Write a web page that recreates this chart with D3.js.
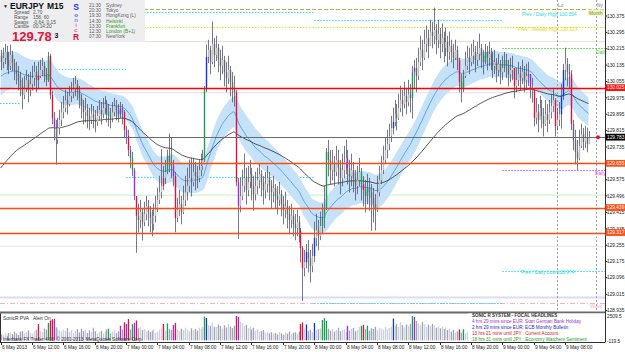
<!DOCTYPE html>
<html>
<head>
<meta charset="utf-8">
<script src="https://cdn.jsdelivr.net/npm/d3@7"></script>
<style>
  body { margin: 0; background: #fff; }
  svg { display: block; font-family: "Liberation Sans", Arial, sans-serif; }
</style>
</head>
<body>
<svg id="chart" width="625" height="352"></svg>
<script>
// EURJPY M15, 6 May 08:00 .. 9 May 11:00 (one close per bar)
const firstOpen = 130.180
const closes = [
  130.150,130.170,130.199,130.160,130.131,130.185,130.145,130.111,130.091,130.062,
  130.033,129.989,130.023,130.062,130.013,130.042,130.072,130.101,130.062,130.082,
  130.111,130.131,130.091,130.062,130.180,129.989,129.876,129.827,129.769,129.827,
  129.867,129.905,129.925,129.964,129.944,129.984,130.003,130.023,130.042,130.013,
  129.974,129.935,129.905,129.915,129.886,129.867,129.895,129.876,129.857,129.886,
  129.915,129.895,129.925,129.944,129.905,129.886,129.876,129.905,129.935,129.915,
  129.895,129.925,129.905,129.818,129.789,129.720,129.681,129.622,129.495,129.398,
  129.378,129.417,129.368,129.407,129.446,129.417,129.388,129.358,129.398,129.437,
  129.476,129.514,129.544,129.583,129.612,129.691,129.661,129.642,129.593,129.388,
  129.427,129.456,129.417,129.476,129.514,129.544,129.583,129.563,129.612,129.593,
  129.583,129.622,129.642,129.671,130.023,130.175,130.209,130.150,130.238,130.185,
  130.219,130.170,130.131,130.160,130.101,130.072,130.111,130.052,130.023,130.003,
  129.563,129.446,129.495,129.544,129.583,129.524,129.563,129.602,129.544,129.504,
  129.544,129.573,129.602,129.563,129.524,129.553,129.583,129.544,129.514,129.534,
  129.495,129.476,129.504,129.456,129.427,129.446,129.407,129.378,129.398,129.358,
  129.339,129.368,129.329,129.241,129.143,129.172,129.221,129.192,129.153,129.202,
  129.290,129.329,129.300,129.349,129.388,129.437,129.710,129.671,129.622,129.651,
  129.612,129.671,129.632,129.583,129.622,129.661,129.681,129.632,129.593,129.622,
  129.583,129.544,129.573,129.612,129.553,129.524,129.495,129.534,129.514,129.485,
  129.456,129.427,129.514,129.573,129.622,129.671,129.720,129.749,129.789,129.827,
  129.857,129.895,129.876,129.925,129.964,129.944,129.984,129.954,129.993,129.974,
  130.101,130.121,130.082,130.150,130.209,130.170,130.238,130.268,130.229,130.297,
  130.277,130.306,130.258,130.287,130.238,130.268,130.219,130.248,130.199,130.229,
  130.199,130.170,130.209,130.160,130.052,130.023,130.082,130.131,130.170,130.150,
  130.180,130.199,130.160,130.189,130.219,130.180,130.150,130.199,130.170,130.189,
  130.160,130.131,130.150,130.111,130.140,130.101,130.121,130.160,130.131,130.091,
  130.111,130.121,130.033,130.062,130.091,130.072,130.101,130.062,130.082,130.091,
  130.023,130.013,129.876,129.905,129.867,129.925,129.886,129.847,129.895,129.867,
  129.905,129.935,129.964,129.837,129.867,129.895,129.984,130.111,130.140,130.101,
  130.091,129.847,129.769,129.710,129.681,129.740,129.798,129.759,129.779,129.749,129.783
]
// wick beyond the body, in pips
const wickUp = [
  3,5,4,3,4,5,2,2,4,4, 4,4,6,5,3,6,6,5,3,7, 5,4,2,3,2,1,2,3,4,5, 5,5,6,5,4,5,5,5,4,2,
  2,2,3,6,3,4,5,4,4,5, 5,4,5,4,2,4,4,5,4,3, 3,3,2,1,2,3,2,3,1,0, 6,6,2,6,5,3,3,4,6,6,
  6,8,18,6,6,3,11,12,3,2, 6,7,4,7,8,9,9,10,7,5, 5,5,6,5,1,6,5,2,11,3, 6,2,4,7,2,5,7,2,5,6,
  1,2,9,8,12,5,8,7,3,5, 7,6,5,2,3,6,6,3,3,6, 2,5,6,2,4,7,3,4,6,3, 5,6,3,1,1,6,4,6,4,6,
  8,8,5,7,7,11,2,6,5,7, 4,7,5,4,8,8,9,4,4,8, 4,4,7,7,2,4,5,7,5,4, 5,5,8,7,7,7,6,7,6,6,
  7,7,5,7,7,5,7,4,7,5, 3,4,5,7,7,5,7,6,4,6, 5,11,3,7,3,7,3,7,3,7, 3,4,5,2,1,4,3,7,6,5,
  6,6,3,6,7,2,3,4,3,6, 3,4,6,2,5,2,6,4,3,3, 6,6,0,6,6,4,6,3,6,6, 0,5,1,7,4,6,4,4,7,5,
  6,6,6,1,6,6,6,3,8,3, 4,2,2,5,6,8,5,3,6,5,3
]
const wickDown = [
  4,3,3,5,4,2,4,5,5,5, 5,7,2,2,6,3,3,4,6,4, 1,3,4,3,1,2,3,6,12,2, 3,3,3,2,5,1,3,3,4,5,
  5,6,6,5,6,5,2,5,5,2, 2,5,2,3,5,5,5,2,2,5, 4,2,6,4,4,3,5,3,2,18, 6,4,9,2,3,7,7,6,3,3,
  2,2,3,2,3,1,5,6,5,7, 2,3,6,1,3,4,3,7,2,7, 5,2,3,2,1,2,3,6,1,6, 3,7,7,4,7,7,3,7,7,7,
  2,16,3,2,3,7,3,3,7,8, 3,4,4,7,7,4,4,7,8,5, 6,7,3,6,7,4,7,7,4,6, 6,4,6,7,16,4,3,7,8,3,
  3,4,7,2,4,5,1,8,7,5, 7,2,8,8,4,4,6,8,8,5, 7,7,4,3,8,8,8,4,9,16, 9,10,1,2,2,2,2,4,3,3,
  3,2,6,1,2,6,2,6,2,7, 10,8,8,2,2,6,1,4,6,0, 6,4,7,4,7,4,7,4,7,4, 5,5,1,5,5,7,2,1,2,6,
  2,4,6,3,3,6,6,1,6,4, 5,6,4,6,3,6,4,2,6,6, 4,5,6,3,3,6,3,6,4,5, 5,6,4,3,6,0,6,6,1,6,
  2,3,3,5,2,3,7,2,5,7, 7,3,5,6,6,1,1,4,3,4,0
]
const volumes = [
  620,540,700,480,760,820,640,900,700,560, 880,960,720,840,1040,780,660,920,1100,1680,
  980,860,1240,1120,1780,2040,2180,2220,1350,1180, 1020,900,1120,960,1260,880,1040,760,940,1160,
  820,1200,980,1100,760,1020,880,1300,940,700, 860,980,740,920,1120,1200,700,880,1040,760,
  940,1500,1100,1850,1700,2200,1100,1650,1800,2050, 1240,1400,1060,1160,920,1040,860,1000,1120,780,
  900,1100,1240,1680,1000,1750,1160,1080,1600,1800, 1120,980,1200,1060,1300,1120,940,1240,1060,1160,
  1000,1300,1180,1380,2450,2300,1560,1500,1840,1400, 1380,1640,1480,1220,1560,1320,1700,1420,1260,1500,
  2500,2420,1900,1760,1500,1600,1240,1400,1120,1300, 1000,1160,860,940,1060,780,900,720,840,680,
  760,620,860,720,580,820,700,900,640,780, 820,700,900,1700,1860,1240,1640,980,1100,860,
  1800,1040,1160,1240,2100,2300,2000,1200,1000,1160, 900,1080,1300,940,1060,1140,880,1500,1000,1200,
  1280,940,1060,1360,1500,1600,1140,1520,1000,1260, 1180,1400,1060,1300,1200,1080,1360,1140,1280,1420,
  2250,1500,1700,1400,1880,1560,1340,1620,1480,1700, 2500,2400,2000,1760,1540,1900,1660,1400,1620,1480,
  1700,1560,1300,1460,1240,1400,1160,1320,1060,1200, 900,1080,780,940,1120,800,1140,700,860,740,
  700,820,640,760,900,680,820,1500,700,760, 800,680,900,760,640,840,720,1500,880,780,
  820,940,1700,1100,860,980,760,900,1040,1600, 1700,1180,2000,1400,1240,1080,1300,1160,1000,1200,
  1060,940,1120,1900,1300,1180,2100,2300,1500,1260, 1100,2200,1600,1400,1500,1200,1040,1100,960,880,700
]
// PVA highlighted bars (bar indexes)
const redBars = [19,25,26,63,65,69,83,89,120,153,154,185,234,262,272,283,291]
const greenBars = [24,55,67,85,104,164,165,166,184,187,210,236,247,257]
const blueBars = [105,156,160,200,286,287]
const purpleBars = [27,61,64,68,88,121,177,211,269,270]

// dragon seeds read at the left edge
const ema34Seed = { high: 130.194, low: 129.979, close: 130.077 }
const ema89Seed = 129.620

const priceTicks = [130.375,130.295,130.215,130.135,130.055,129.975,129.895,129.815,129.735,
  129.575,129.496,129.415,129.335,129.255,129.175,129.096,129.015,128.935]
const timeLabels = ['6 May 2013','6 May 12:00','6 May 16:00','6 May 20:00','7 May 00:00','7 May 04:00',
  '7 May 08:00','7 May 12:00','7 May 16:00','7 May 20:00','8 May 00:00','8 May 04:00','8 May 08:00',
  '8 May 12:00','8 May 16:00','8 May 20:00','9 May 00:00','9 May 04:00','9 May 08:00']
const lastPrice = 129.783
const redLevels = [130.025]
const orangeLevels = [129.655, 129.439, 129.317]
const roundLevels = [130.25, 130.00, 129.50, 129.25, 129.00]
const volTicks = [2509.5, -119.5]

const sessions = ['21:30','20:30','19:30','14:30','13:30','12:30','07:30']
const cities = ['Sydney','Tokyo','HongKong (L)','Helsinki','Frankfurt','London (B+1)','NewYork']
const headlines = [
  '4 hrs 29 mins since EUR: Start German Bank Holiday',
  '2 hrs 29 mins since EUR: ECB Monthly Bulletin',
  '13 hrs 21 mins until JPY : Current Account',
  '18 hrs 31 mins until JPY : Economy Watchers Sentiment'
]

const svg = d3.select('#chart')
const W = 625, plotR = 605, mainB = 311.5, volTop = 313.5, volB = 342.5

const t0 = new Date(2013, 4, 6, 8, 0)
const barTime = i => new Date(+t0 + i * 15 * 60000)
const x = d3.scaleTime()
  .domain([new Date(2013, 4, 6, 12), new Date(2013, 4, 9, 8)])
  .range([32, 565])
const y = d3.scaleLinear().domain([128.935, 130.375]).range([310.7, 16])
const yv = d3.scaleLinear().domain([-119.5, 2509.5]).range([341.5, 316])

const pva = {}
redBars.forEach(i => pva[i] = '#e2103e')
greenBars.forEach(i => pva[i] = '#12a150')
blueBars.forEach(i => pva[i] = '#1434e6')
purpleBars.forEach(i => pva[i] = '#a226ee')

const bars = closes.map((c, i) => {
  const o = i ? closes[i - 1] : firstOpen
  return {
    i, t: barTime(i), o, c, v: volumes[i],
    h: Math.max(o, c) + wickUp[i] * 0.01,
    l: Math.min(o, c) - wickDown[i] * 0.01
  }
})

function ema(vals, n, seed) {
  const k = 2 / (n + 1)
  let e = seed
  return vals.map(v => (e = e + k * (v - e)))
}
const emaHi = ema(bars.map(d => d.h), 34, ema34Seed.high)
const emaLo = ema(bars.map(d => d.l), 34, ema34Seed.low)
const emaCl = ema(closes, 34, ema34Seed.close)
const ema89 = ema(closes, 89, ema89Seed)

svg.append('rect').attr('width', W).attr('height', 352).attr('fill', '#fff')

svg.append('clipPath').attr('id', 'main-clip')
  .append('rect').attr('x', 0).attr('y', 0).attr('width', plotR).attr('height', mainB)
const main = svg.append('g').attr('clip-path', 'url(#main-clip)')

// round number lines
const roundColors = ['#e6e2cc', '#dcdcf2', '#c4f0c4', '#e6e6e6', '#dcdcf6']
roundLevels.forEach((p, k) => {
  main.append('line').attr('x1', 0).attr('x2', plotR)
    .attr('y1', y(p)).attr('y2', y(p))
    .attr('stroke', roundColors[k]).attr('stroke-width', k === 4 ? 2 : 1)
})

// long reference lines
function hline(p, color, dash, x1 = 0, x2 = plotR, w = 1) {
  main.append('line').attr('x1', x1).attr('x2', x2)
    .attr('y1', Math.round(y(p)) + 0.5).attr('y2', Math.round(y(p)) + 0.5)
    .attr('stroke', color).attr('stroke-width', w).attr('stroke-dasharray', dash)
}
const bx = i => x(barTime(i))
hline(130.409, '#a8b848', '4,2')                 // month
hline(130.323, '#e8e000', '1.5,1.5')             // prev weekly high
hline(130.394, '#22e0f0', '1.5,1.5', 0, bx(160))
hline(130.354, '#22e0f0', '1.5,1.5', bx(160), bx(256))
hline(130.116, '#22e0f0', '1.5,1.5', bx(22), bx(64))
hline(129.950, '#22e0f0', '1.5,1.5', 0, bx(10))
hline(129.588, '#22e0f0', '1.5,1.5', bx(64), bx(160))
hline(130.218, '#30e030', '1.5,1.5', bx(256), plotR)
hline(129.622, '#f040f0', '1.5,1.5', bx(256), plotR)
hline(129.130, '#22e0f0', '1.5,1.5', bx(256), plotR)
hline(128.972, '#f4b4c4', '5,2,1,2')
hline(128.972, '#22e0f0', '1.5,1.5', bx(160), bx(256))

// dragon band
main.append('path')
  .attr('d', d3.area().x((d, i) => bx(i)).y0((d, i) => y(emaLo[i])).y1((d, i) => y(emaHi[i]))
    .curve(d3.curveMonotoneX)(bars))
  .attr('fill', '#c6e2f8')
main.append('path')
  .attr('d', d3.line().x((d, i) => bx(i)).y(d => y(d)).curve(d3.curveMonotoneX)(emaCl))
  .attr('fill', 'none').attr('stroke', '#3e92e6').attr('stroke-width', 0.8)
main.append('path')
  .attr('d', d3.line().x((d, i) => bx(i)).y(d => y(d)).curve(d3.curveMonotoneX)(ema89))
  .attr('fill', 'none').attr('stroke', '#2a2a2a').attr('stroke-width', 0.8)

// session verticals
;[bx(284), bx(304)].forEach(vx => {
  main.append('line').attr('x1', Math.round(vx) + 0.5).attr('x2', Math.round(vx) + 0.5)
    .attr('y1', 0).attr('y2', mainB).attr('stroke', '#a0a0a0').attr('stroke-dasharray', '2,2')
})

// candles
const cg = main.append('g')
cg.selectAll('line').data(bars).enter().append('line')
  .attr('x1', d => Math.round(x(d.t)) + 0.5).attr('x2', d => Math.round(x(d.t)) + 0.5)
  .attr('y1', d => y(d.h)).attr('y2', d => y(d.l))
  .attr('stroke', '#4a4a68').attr('stroke-width', 0.75)
cg.selectAll('rect').data(bars).enter().append('rect')
  .attr('x', d => Math.round(x(d.t)) - 0.2)
  .attr('width', 1.4)
  .attr('y', d => y(Math.max(d.o, d.c)))
  .attr('height', d => Math.max(1, y(Math.min(d.o, d.c)) - y(Math.max(d.o, d.c))))
  .attr('fill', d => pva[d.i] || (d.c >= d.o ? '#c0c0c0' : '#666666'))

// key levels on top
redLevels.forEach(p => hline(p, '#ff0000', null, 0, plotR, 1.6))
orangeLevels.forEach(p => hline(p, '#ff4a12', null, 0, plotR, 1.4))
hline(lastPrice, '#6a6a6a', null, 0, plotR, 1)
main.append('circle').attr('cx', 598).attr('cy', y(lastPrice)).attr('r', 2).attr('fill', '#ee1020')

// chart labels
function label(txt, lx, ly, color, size = 4.8, weight = 'normal') {
  return svg.append('text').attr('x', lx).attr('y', ly).text(txt)
    .attr('fill', color).attr('font-size', size).attr('font-weight', weight)
}
svg.append('rect').attr('x', 588).attr('y', 9.5).attr('width', 16).attr('height', 6).attr('fill', '#f2f2c8')
label('Month', 589, 14.5, '#6c9a10')
label('Prev / Daily High 130.354', 522, 15.5, '#22d8e8')
label('Prev / Weekly High 130.323', 518, 31, '#e0d800')
label('Daily', 596, 53.5, '#30d030')
label('Daily', 595, 175, '#f040f0')
label('Prev / Daily Low 128.974', 521, 274, '#22d8e8')
label('Week', 590, 308, '#f4b0c0')
label('Lo', 558, 6.5, '#808080')
label('Ny', 597, 6.5, '#808080')

// info box
svg.append('rect').attr('x', 0).attr('y', 0).attr('width', 145).attr('height', 42).attr('fill', '#eeeef1')
label('\u25BC', 3, 8, '#202020', 5)
label('EURJPY', 10, 9, '#101010', 8.5, 'bold')
label('M15', 47, 9, '#101010', 8.5, 'bold')
const infoKeys = ['Spread', 'Range', 'Swaps', 'Candle']
const infoVals = ['2.70', '158, 60', '-0.64, 0.15', '00:14:20']
infoKeys.forEach((k, j) => {
  label(k, 14, 14.3 + j * 4.7, '#505050', 4.8)
  label(infoVals[j], 33, 14.3 + j * 4.7, '#505050', 4.8)
})
label('129.78', 12, 40.5, '#e4143a', 13, 'bold')
label('3', 54.5, 37.5, '#101010', 7, 'bold')
const sonic = [['S', '#1c3ce6', 8.5, 9.6], ['o', '#3c5ce8', 6, 17], ['n', '#8a7ee6', 6, 22],
  ['i', '#e07cc0', 6, 27], ['c', '#f0609a', 6, 32], ['R', '#e4103c', 8.5, 39.5]]
sonic.forEach(s => label(s[0], 76, s[3], s[1], s[2], 'bold').attr('text-anchor', 'middle'))
sessions.forEach((s, j) => {
  const ly = 6.8 + j * 5.25
  const green = j >= 3 && j <= 5
  label(s, 89, ly, '#606060', 4.8)
  label(cities[j], 106, ly, green ? '#2c9a2c' : '#606060', 4.8)
})

// price axis
svg.append('line').attr('x1', plotR + 0.5).attr('x2', plotR + 0.5).attr('y1', 0).attr('y2', volB)
  .attr('stroke', '#303030')
priceTicks.forEach(p => {
  svg.append('line').attr('x1', plotR).attr('x2', plotR + 2.5).attr('y1', y(p)).attr('y2', y(p)).attr('stroke', '#303030')
  label(p.toFixed(3), 607, y(p) + 1.7, '#202020', 4.8)
})
function priceTag(p, bg) {
  svg.append('rect').attr('x', plotR + 0.5).attr('y', y(p) - 3.4).attr('width', 20).attr('height', 6.8).attr('fill', bg)
  label(p.toFixed(3), 607, y(p) + 1.7, '#fff', 4.8)
}
redLevels.forEach(p => priceTag(p, '#ff1010'))
orangeLevels.forEach(p => priceTag(p, '#ff5018'))
priceTag(lastPrice, '#000')

// separator and volume panel
svg.append('rect').attr('x', 0).attr('y', mainB).attr('width', plotR).attr('height', 2).attr('fill', '#6a6a6a')
svg.append('g').selectAll('rect').data(bars).enter().append('rect')
  .attr('x', d => Math.round(x(d.t)) - 0.2).attr('width', 1.3)
  .attr('y', d => yv(d.v)).attr('height', d => yv(0) - yv(d.v))
  .attr('fill', d => pva[d.i] || (d.c >= d.o ? '#ccd0d8' : '#9ea4b6'))
svg.append('rect').attr('x', 468).attr('y', volTop).attr('width', plotR - 468).attr('height', volB - volTop).attr('fill', '#fff')
label('SonicR PVA', 3, 319.5, '#303030', 4.8)
label('Alert On', 33, 319.5, '#303030', 4.8)
label('Interbank FX Trader 4.00, \u00A9 2001-2013, MetaQuotes Software Corp.', 3, 340.5, '#303030', 4.6)
label('SONIC R SYSTEM - FOCAL HEADLINES', 472, 316.5, '#303030', 4.5, 'bold')
const headColors = ['#9a30d0', '#2424e0', '#e01030', '#22a022']
headlines.forEach((h, j) => label(h, 472, 322.5 + j * 6, headColors[j], 4.6))
volTicks.forEach(v => label(v.toFixed(1), 607, yv(v) + 1.7, '#202020', 4.8))

// frame and time axis
svg.append('line').attr('x1', 0).attr('x2', plotR).attr('y1', volB).attr('y2', volB).attr('stroke', '#303030')
svg.append('line').attr('x1', 0.5).attr('x2', 0.5).attr('y1', volTop).attr('y2', volB).attr('stroke', '#303030')
const parseT = d3.timeParse('%d %b %H:%M %Y')
timeLabels.forEach(s => {
  const t = parseT(s + ' 2013') || t0
  const tx = Math.max(0.5, Math.round(x(t)) + 0.5)
  svg.append('line').attr('x1', tx).attr('x2', tx).attr('y1', volB).attr('y2', volB + 2.5).attr('stroke', '#303030')
  label(s, tx + 0.5, 348.8, '#202020', 4.8)
})
</script>
</body>
</html>
